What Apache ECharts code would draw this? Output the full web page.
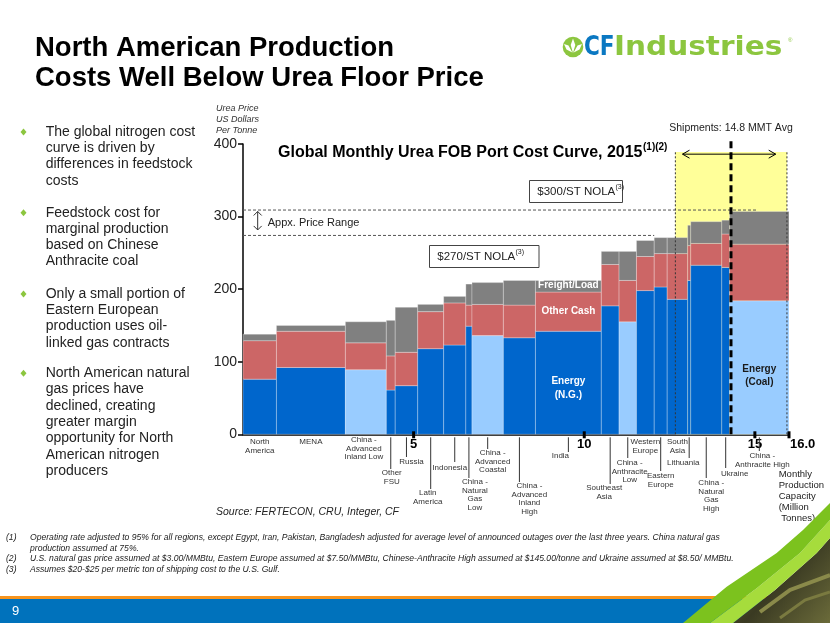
<!DOCTYPE html>
<html><head><meta charset="utf-8">
<script src="https://cdn.jsdelivr.net/npm/echarts@6/dist/echarts.min.js"></script>
<style>html,body{margin:0;padding:0;background:#fff;}#c{width:830px;height:623px;}</style>
</head><body><div id="c"></div>
<script>
// ---------------- DATA ----------------
const regions = ['North America','MENA','China - Advanced Inland Low','Other FSU','Russia','Latin America','Indonesia','China - Natural Gas Low','China - Advanced Coastal','China - Advanced Inland High','India','Southeast Asia','China - Anthracite Low','Western Europe','Eastern Europe','South Asia','Lithuania','China - Natural Gas High','Ukraine','China - Anthracite High'];
const regionLabels = ['North\nAmerica','MENA','China -\nAdvanced\nInland Low','Other\nFSU','Russia','Latin\nAmerica','Indonesia','China -\nNatural\nGas\nLow','China -\nAdvanced\nCoastal','China -\nAdvanced\nInland\nHigh','India','Southeast\nAsia','China -\nAnthracite\nLow','Western\nEurope','Eastern\nEurope','South\nAsia','Lithuania','China -\nNatural\nGas\nHigh','Ukraine','China -\nAnthracite High'];
const capacity = [0.98,2.02,1.20,0.26,0.66,0.76,0.65,0.18,0.92,0.94,1.93,0.52,0.51,0.52,0.38,0.60,0.09,0.91,0.23,1.74];
const energyCost = [76,92,89,61,67,118,123,149,136,133,142,177,155,198,203,186,212,233,230,184];
const otherCashCost = [53,50,37,47,46,51,58,29,43,45,54,57,57,47,46,63,48,30,46,78];
const freightLoadCost = [9,8,29,49,62,10,9,29,30,34,16,18,40,22,22,22,28,30,19,45];
const energySource = ['N.G.','N.G.','Coal','N.G.','N.G.','N.G.','N.G.','N.G.','Coal','N.G.','N.G.','N.G.','Coal','N.G.','N.G.','N.G.','N.G.','N.G.','N.G.','Coal'];
const xTickValues = [5,10,15,16];
const xTickLabels = ['5','10','15','16.0'];
const priceRange = [274, 309];
const shipmentsLineX = 14.3;
const monthlyRange = [12.67, 15.94];
const monthlyTop = 389;

// ---------------- LAYOUT (not data) ----------------
const FONT = "'Liberation Sans', Arial, sans-serif";
// [dx, first-line center offset below axis, leader end offset]
const labelLayout = [[0,7.7,0],[0,7.7,0],[-2,5.7,0],[1,38.7,34.7],[5,27.7,22.7],[-3,58.7,54.7],[-5,33.7,27.7],[6,47.7,43.7],[5,18.7,14.7],[10,51.7,47.7],[-8,21.7,17.7],[-6,53.7,49.7],[2,28.7,23.7],[0,7.7,0],[0,41.7,36.7],[0,7.7,0],[-6,28.7,23.7],[5,48.7,43.7],[9,39.7,33.7],[3,21.7,16.7]];

let cum = 0;
const barData = capacity.map((w,i)=>{const x0=cum; cum+=w; return [x0, cum, energyCost[i], otherCashCost[i], freightLoadCost[i], energySource[i]==='Coal'?1:0];});
const labelData = barData.map((d,i)=>[(d[0]+d[1])/2, i]);

function renderBar(p, api){
  const x0=api.value(0), x1=api.value(1), e=api.value(2), o=api.value(3), f=api.value(4), coal=api.value(5)===1;
  const b=api.coord([x0,0]), p1=api.coord([x1,e]), p2=api.coord([x1,e+o]), p3=api.coord([x1,e+o+f]);
  const w=p1[0]-b[0];
  const st = fill => ({fill, stroke:'rgba(255,255,255,0.35)', lineWidth:0.8});
  return {type:'group', children:[
    {type:'rect', shape:{x:b[0], y:p1[1], width:w, height:b[1]-p1[1]}, style:st(coal?'#99CCFF':'#0066CC')},
    {type:'rect', shape:{x:b[0], y:p2[1], width:w, height:p1[1]-p2[1]}, style:st('#CC6666')},
    {type:'rect', shape:{x:b[0], y:p3[1], width:w, height:p2[1]-p3[1]}, style:st('#808080')}
  ]};
}
function renderYellow(p, api){
  const a=api.coord([monthlyRange[0],0]), b=api.coord([monthlyRange[1],monthlyTop]);
  return {type:'rect', shape:{x:a[0], y:b[1], width:b[0]-a[0], height:a[1]-b[1]}, style:{fill:'#FFFF99'}};
}
function renderRegionLabel(p, api){
  const i=api.value(1), base=api.coord([api.value(0),0]), L=labelLayout[i];
  const ch=[];
  if(L[2]>0) ch.push({type:'line', shape:{x1:base[0],y1:base[1]+3,x2:base[0],y2:base[1]+L[2]}, style:{stroke:'#333',lineWidth:1}});
  ch.push({type:'text', style:{text:regionLabels[i], x:base[0]+L[0], y:base[1]+L[1]-4.25, align:'center', verticalAlign:'top', fontSize:8, fontFamily:FONT, lineHeight:8.5, fill:'#333'}});
  return {type:'group', children:ch};
}
function renderOverlay(p, api){
  const c=v=>api.coord(v), ch=[];
  const line=(a,b,style)=>ch.push({type:'line', shape:{x1:a[0],y1:a[1],x2:b[0],y2:b[1]}, style});
  line(c([0,priceRange[1]]), c([15.06,priceRange[1]]), {stroke:'#555',lineWidth:1,lineDash:[3,2]});
  line(c([0,priceRange[0]]), c([12.05,priceRange[0]]), {stroke:'#555',lineWidth:1,lineDash:[3,2]});
  line(c([monthlyRange[0],0]), c([monthlyRange[0],monthlyTop]), {stroke:'#333',lineWidth:1,lineDash:[2,2]});
  line(c([monthlyRange[1],0]), c([monthlyRange[1],monthlyTop]), {stroke:'#333',lineWidth:1,lineDash:[2,2]});
  line(c([shipmentsLineX,0]), c([shipmentsLineX,406]), {stroke:'#000',lineWidth:3,lineDash:[7,4]});
  const a1=c([12.88,386]), a2=c([15.61,386]);
  line(a1,a2,{stroke:'#000',lineWidth:1});
  ch.push({type:'polyline', shape:{points:[[a1[0]+7,a1[1]-4],a1,[a1[0]+7,a1[1]+4]]}, style:{stroke:'#000',lineWidth:1,fill:null}});
  ch.push({type:'polyline', shape:{points:[[a2[0]-7,a2[1]-4],a2,[a2[0]-7,a2[1]+4]]}, style:{stroke:'#000',lineWidth:1,fill:null}});
  const r1=c([0.43,307]), r2=c([0.43,281.6]);
  line(r1,r2,{stroke:'#333',lineWidth:1});
  ch.push({type:'polyline', shape:{points:[[r1[0]-4,r1[1]+4],r1,[r1[0]+4,r1[1]+4]]}, style:{stroke:'#333',lineWidth:1,fill:null}});
  ch.push({type:'polyline', shape:{points:[[r2[0]-4,r2[1]-4],r2,[r2[0]+4,r2[1]-4]]}, style:{stroke:'#333',lineWidth:1,fill:null}});
  xTickValues.forEach((v,k)=>{
    const t=c([v,0]);
    ch.push({type:'rect', shape:{x:t[0]-1.5,y:t[1]-3,width:3,height:7}, style:{fill:'#000'}});
    const last = k===xTickValues.length-1;
    ch.push({type:'text', style:{text:xTickLabels[k], x: last? t[0]+1 : t[0], y:t[1]+4, align: last?'left':'center', verticalAlign:'top', fontSize:13, fontWeight:'bold', fontFamily:FONT, fill:'#000'}});
  });
  const ind = barData[10], cah = barData[19];
  const ix=(ind[0]+ind[1])/2, cx=(cah[0]+cah[1])/2;
  const wt = {fontSize:10, fontWeight:'bold', fontFamily:FONT, fill:'#fff', align:'center', verticalAlign:'middle'};
  let q=c([ix, ind[2]+ind[3]+ind[4]/2+2]); ch.push({type:'text', style:Object.assign({text:'Freight/Load', x:q[0], y:q[1]}, wt)});
  q=c([ix, ind[2]+ind[3]/2]); ch.push({type:'text', style:Object.assign({text:'Other Cash', x:q[0], y:q[1]}, wt)});
  q=c([ix, 64]); ch.push({type:'text', style:Object.assign({text:'Energy\n(N.G.)', x:q[0], y:q[1], lineHeight:14}, wt)});
  q=c([cx, 80]); ch.push({type:'text', style:Object.assign({}, wt, {text:'Energy\n(Coal)', x:q[0], y:q[1], lineHeight:13, fill:'#1a1a1a'})});
  return {type:'group', children:ch};
}

// ---------------- SLIDE DECORATION ----------------
const bulletTexts = [
 ['The global nitrogen cost\ncurve is driven by\ndifferences in feedstock\ncosts', 132],
 ['Feedstock cost for\nmarginal production\nbased on Chinese\nAnthracite coal', 212.7],
 ['Only a small portion of\nEastern European\nproduction uses oil-\nlinked gas contracts', 294],
 ['North American natural\ngas prices have\ndeclined, creating\ngreater margin\nopportunity for North\nAmerican nitrogen\nproducers', 373.3]
];
const graphic = [];
const T = (text,x,y,o)=>graphic.push({type:'text', silent:true, style:Object.assign({text,x,y,fontFamily:FONT,fill:'#222',verticalAlign:'middle'},o||{})});
T('North American Production', 35, 48, {fontSize:27.5, fontWeight:'bold', fill:'#000'});
T('Costs Well Below Urea Floor Price', 35, 78.5, {fontSize:27.5, fontWeight:'bold', fill:'#000'});
// Logo
graphic.push({type:'circle', shape:{cx:573, cy:47, r:10.3}, style:{fill:'#8CC63F'}});
graphic.push({type:'polygon', shape:{points:[[573,38.5],[575.3,45],[573,53],[570.7,45]]}, style:{fill:'#fff'}});
graphic.push({type:'polygon', shape:{points:[[564,44],[568.5,45.5],[572.3,52.5],[566.5,49.5]]}, style:{fill:'#fff'}});
graphic.push({type:'polygon', shape:{points:[[582,44],[577.5,45.5],[573.7,52.5],[579.5,49.5]]}, style:{fill:'#fff'}});
graphic.push({type:'text', silent:true, x:584, y:47.5, scaleX:0.8, style:{text:'CF', x:0, y:0, fontSize:27, fontWeight:'bold', fill:'#0A78C2', fontFamily:"'DejaVu Sans', sans-serif", verticalAlign:'middle'}});
graphic.push({type:'text', silent:true, x:614, y:47.5, scaleX:1.095, style:{text:'Industries', x:0, y:0, fontSize:27, fontWeight:'bold', fill:'#8CC63F', fontFamily:"'DejaVu Sans', sans-serif", verticalAlign:'middle'}});
T('®', 788, 40, {fontSize:6, fill:'#8CC63F'});
// Bullets
bulletTexts.forEach(([t,y])=>{
  graphic.push({type:'polygon', shape:{points:[[23.5,y-3.5],[26.5,y],[23.5,y+3.5],[20.5,y]]}, style:{fill:'#8CC63F'}});
  T(t, 45.7, y-8.15, {fontSize:14, lineHeight:16.3, verticalAlign:'top', fill:'#222'});
});
// Chart texts
T('Urea Price\nUS Dollars\nPer Tonne', 216, 102.8, {fontSize:9, fontStyle:'italic', lineHeight:11, verticalAlign:'top', fill:'#333'});
T('Global Monthly Urea FOB Port Cost Curve, 2015', 278, 152.5, {fontSize:16, fontWeight:'bold', fill:'#000'});
T('(1)(2)', 643, 147.5, {fontSize:10, fontWeight:'bold', fill:'#000'});
T('Shipments: 14.8 MMT Avg', 731, 128, {fontSize:10.5, align:'center'});
T('Appx. Monthly\nRange', 731, 159.7, {fontSize:11, lineHeight:12, align:'center', verticalAlign:'top'});
T('Appx. Price Range', 267.7, 222.5, {fontSize:11});
graphic.push({type:'rect', shape:{x:429.5,y:245.5,width:109.5,height:22}, style:{fill:'#fff',stroke:'#444',lineWidth:1}});
T('$270/ST NOLA', 437.3, 257, {fontSize:11.5});
T('(3)', 515.5, 252.5, {fontSize:7});
graphic.push({type:'rect', shape:{x:529.5,y:180.5,width:93,height:22}, style:{fill:'#fff',stroke:'#444',lineWidth:1}});
T('$300/ST NOLA', 537.3, 192, {fontSize:11.5});
T('(3)', 615.5, 187.5, {fontSize:7});
T('Monthly\nProduction\nCapacity\n(Million\n Tonnes)', 778.7, 468.4, {fontSize:9.5, lineHeight:11.2, verticalAlign:'top'});
T('Source: FERTECON, CRU, Integer, CF', 216, 512, {fontSize:10.5, fontStyle:'italic', fill:'#222'});
// Footnotes
const fn = {fontSize:8.6, fontStyle:'italic', fill:'#222'};
T('(1)', 6, 538, fn);
T('Operating rate adjusted to 95% for all regions, except Egypt, Iran, Pakistan, Bangladesh adjusted for average level of announced outages over the last three years. China natural gas', 30, 538, fn);
T('production assumed at 75%.', 30, 548.5, fn);
T('(2)', 6, 559, fn);
T('U.S. natural gas price assumed at $3.00/MMBtu, Eastern Europe assumed at $7.50/MMBtu, Chinese-Anthracite High assumed at $145.00/tonne and Ukraine assumed at $8.50/ MMBtu.', 30, 559, fn);
T('(3)', 6, 569.5, fn);
T('Assumes $20-$25 per metric ton of shipping cost to the U.S. Gulf.', 30, 569.5, fn);
// Bottom band
graphic.push({type:'rect', shape:{x:0,y:596,width:830,height:3}, style:{fill:'#F7941D'}});
graphic.push({type:'rect', shape:{x:0,y:599,width:830,height:24}, style:{fill:'#0072BC'}});
T('9', 12, 611, {fontSize:13, fill:'#fff'});
// Swoosh
graphic.push({type:'polygon', shape:{points:[[830,538],[816.7,553],[775,590],[733,623],[830,623]]}, style:{fill:{type:'linear',x:0,y:0,x2:1,y2:1,colorStops:[{offset:0,color:'#5a5a30'},{offset:0.5,color:'#3a3a22'},{offset:1,color:'#6b6b3a'}]}}});
graphic.push({type:'polyline', shape:{points:[[760,612],[790,590],[830,575]]}, style:{stroke:'#8a8a4a',lineWidth:4,fill:null}});
graphic.push({type:'polyline', shape:{points:[[780,618],[805,600],[830,592]]}, style:{stroke:'#7a7a40',lineWidth:3,fill:null}});
graphic.push({type:'polygon', shape:{points:[[830,520],[800,553],[757,588],[710,623],[733,623],[775,590],[816.7,553],[830,538]]}, style:{fill:'#A6DC3C'}});
graphic.push({type:'polygon', shape:{points:[[830,503],[803,530],[776.7,553],[726.7,586.7],[683,623],[710,623],[757,588],[800,553],[830,520]]}, style:{fill:'#7CC21E'}});

const option = {
  animation:false,
  backgroundColor:'#fff',
  grid:{left:243, right:41, top:144, bottom:188.7},
  xAxis:{type:'value', min:0, max:16, interval:1, axisLine:{show:true,onZero:false,lineStyle:{color:'#000',width:1.5}}, axisTick:{show:false}, axisLabel:{show:false}, splitLine:{show:false}},
  yAxis:{type:'value', min:0, max:400, interval:100, axisLine:{show:true,lineStyle:{color:'#000',width:1.5}}, axisTick:{show:true,length:5,lineStyle:{color:'#000',width:1.5}}, axisLabel:{fontSize:14, color:'#222', margin:6, fontFamily:FONT}, splitLine:{show:false}},
  series:[
    {type:'custom', name:'Monthly Range', coordinateSystem:'cartesian2d', renderItem:renderYellow, data:[[0,0]], z:1, silent:true, clip:false},
    {type:'custom', name:'Cost', coordinateSystem:'cartesian2d', renderItem:renderBar, data:barData, z:2, silent:true, clip:false, encode:{x:[0,1], y:[2]}},
    {type:'custom', name:'Overlay', coordinateSystem:'cartesian2d', renderItem:renderOverlay, data:[[0,0]], z:3, silent:true, clip:false},
    {type:'custom', name:'Regions', coordinateSystem:'cartesian2d', renderItem:renderRegionLabel, data:labelData, z:3, silent:true, clip:false}
  ],
  graphic: graphic
};
const chart = echarts.init(document.getElementById('c'));
chart.setOption(option);
</script></body></html>
